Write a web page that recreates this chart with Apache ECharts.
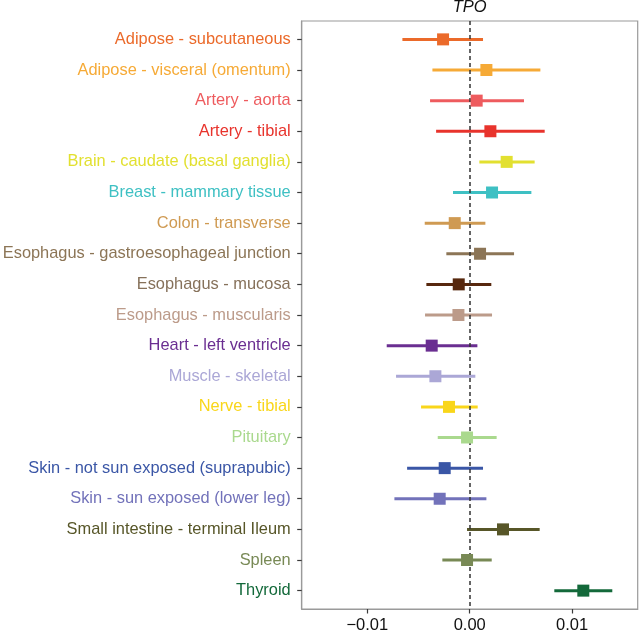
<!DOCTYPE html>
<html>
<head>
<meta charset="utf-8">
<script src="https://cdn.jsdelivr.net/npm/echarts@6/dist/echarts.min.js"></script>
<style>html,body{margin:0;padding:0;background:#fff;}#c{width:639px;height:634px;}</style>
</head>
<body>
<div id="c"></div>
<script>
const tissues = [
  "Adipose - subcutaneous",
  "Adipose - visceral (omentum)",
  "Artery - aorta",
  "Artery - tibial",
  "Brain - caudate (basal ganglia)",
  "Breast - mammary tissue",
  "Colon - transverse",
  "Esophagus - gastroesophageal junction",
  "Esophagus - mucosa",
  "Esophagus - muscularis",
  "Heart - left ventricle",
  "Muscle - skeletal",
  "Nerve - tibial",
  "Pituitary",
  "Skin - not sun exposed (suprapubic)",
  "Skin - sun exposed (lower leg)",
  "Small intestine - terminal Ileum",
  "Spleen",
  "Thyroid"
];
const estimate = [-0.0026, 0.00163, 0.00068, 0.00202, 0.00361, 0.00218, -0.00146, 0.00101, -0.00107, -0.0011, -0.00371, -0.00335, -0.00202, -0.00026, -0.00244, -0.00293, 0.00325, -0.00026, 0.01109];
const ciLow = [-0.00657, -0.00364, -0.00387, -0.00328, 0.00094, -0.00163, -0.00439, -0.00228, -0.00423, -0.00436, -0.0081, -0.00719, -0.00475, -0.00312, -0.00611, -0.00735, -0.00026, -0.00267, 0.00826];
const ciHigh = [0.0013, 0.0069, 0.0053, 0.00732, 0.00634, 0.00602, 0.00153, 0.00433, 0.00211, 0.00218, 0.00075, 0.00055, 0.00078, 0.00263, 0.0013, 0.00163, 0.00683, 0.00215, 0.01392];
const tissueColors = ["#EB6A2A", "#F6AA36", "#EE5B5E", "#E8332C", "#E2E030", "#3EC0C3", "#CF9A52", "#8C7556", "#57280E", "#BC9B8A", "#6A2E91", "#ABA7D6", "#F9D61A", "#AAD98E", "#3A56A6", "#7272BA", "#575628", "#788955", "#13693A"];
const labelColors = ["#EB6A2A", "#F6AA36", "#EE5B5E", "#E8332C", "#E2E030", "#3EC0C3", "#CF9A52", "#8C7556", "#86715A", "#BC9B8A", "#6A2E91", "#ABA7D6", "#F9D61A", "#AAD98E", "#3A56A6", "#7272BA", "#575628", "#788955", "#13693A"];
const xTicks = [-0.01, 0, 0.01];
const geneTitle = "TPO";

const chart = echarts.init(document.getElementById('c'));
const FONT = '"Liberation Sans", Arial, Helvetica, sans-serif';
const idx = tissues.map((_, i) => i);
const rich = {};
labelColors.forEach((c, i) => { rich['c' + i] = { color: c, fontSize: 16.4, fontFamily: FONT }; });

function fmtX(v) {
  if (Math.abs(v) < 1e-12) return '0.00';
  return (v < 0 ? '\u2212' : '') + Math.abs(v).toFixed(2);
}

const frameColor = '#9a9a9a';
const tickStyle = { color: '#3a3a3a', width: 1.2 };
const option = {
  animation: false,
  backgroundColor: '#fff',
  grid: { left: 301.7, right: 1.3, top: 21, bottom: 25, outerBoundsMode: 'none', containLabel: false, show: true, borderColor: frameColor, borderWidth: 1.2, backgroundColor: 'transparent' },
  xAxis: {
    type: 'value', min: -0.0164, max: 0.0164, position: 'bottom',
    axisLine: { show: true, onZero: false, lineStyle: { color: frameColor, width: 1.2 } },
    splitLine: { show: false },
    axisTick: { show: true, inside: false, length: 4.5, lineStyle: tickStyle, customValues: xTicks },
    axisLabel: { customValues: xTicks, formatter: fmtX, color: '#111', fontSize: 16.5, fontFamily: FONT, margin: 8 }
  },
  yAxis: {
    type: 'value', inverse: true, min: -0.6, max: 18.6, position: 'left',
    axisLine: { show: true, onZero: false, lineStyle: { color: frameColor, width: 1.2 } },
    splitLine: { show: false },
    axisTick: { show: true, inside: false, length: 4.5, lineStyle: tickStyle, customValues: idx },
    axisLabel: { customValues: idx, margin: 11, formatter: v => { const i = Math.round(v); return '{c' + i + '|' + tissues[i] + '}'; }, rich: rich }
  },
  graphic: [{
    type: 'text', x: 469.7, y: 7,
    style: { text: geneTitle, fontSize: 16.5, fontStyle: 'italic', fontFamily: FONT, fill: '#111', textAlign: 'center', textVerticalAlign: 'middle' }
  }],
  series: [
    {
      type: 'custom',
      data: idx.map(i => [ciLow[i], ciHigh[i], i]),
      renderItem: (params, api) => {
        const i = api.value(2);
        const p1 = api.coord([api.value(0), i]);
        const p2 = api.coord([api.value(1), i]);
        return { type: 'line', shape: { x1: p1[0], y1: p1[1], x2: p2[0], y2: p2[1] }, style: { stroke: tissueColors[i], lineWidth: 3 } };
      },
      encode: { x: [0, 1], y: 2 },
      z: 2
    },
    {
      type: 'scatter',
      data: idx.map(i => [estimate[i], i]),
      symbol: 'rect', symbolSize: 12,
      itemStyle: { color: p => tissueColors[p.dataIndex], opacity: 1 },
      z: 4,
      markLine: {
        silent: true, symbol: 'none', label: { show: false },
        lineStyle: { color: '#333', type: [4, 3], width: 1.5 },
        data: [{ xAxis: 0 }],
        z: 3
      }
    }
  ]
};
chart.setOption(option);
</script>
</body>
</html>
